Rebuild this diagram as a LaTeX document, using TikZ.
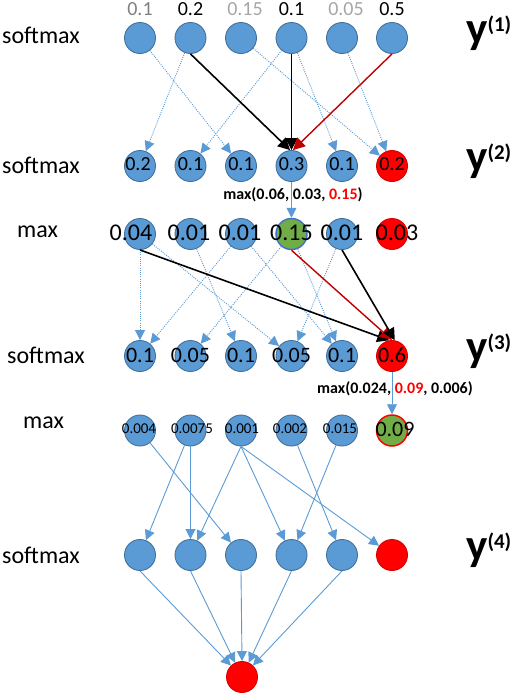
\documentclass[tikz,border=0pt]{standalone}
\usepackage{fontspec}
\setmainfont{Carlito}
\usetikzlibrary{arrows.meta}
\definecolor{cellblue}{HTML}{5B9BD5}
\definecolor{celledge}{HTML}{41719C}
\definecolor{cellred}{HTML}{FF0000}
\definecolor{cellgreen}{HTML}{70AD47}
\definecolor{ringblue}{HTML}{4472C4}
\definecolor{pathred}{HTML}{C00000}
\definecolor{numgrey}{HTML}{7F7F7F}
\definecolor{numlight}{HTML}{A6A6A6}
\tikzset{%
    cell/.style={circle, fill=cellblue, draw=celledge, line width=0.9pt, minimum size=31pt, inner sep=0pt},
    hotcell/.style={cell, fill=cellred, draw=cellred!85!black},
    bestcell/.style={cell, fill=cellgreen, line width=1.5pt},
    rowlab/.style={anchor=base west, inner sep=0pt, font=\fontsize{24}{24}\selectfont},
    ylab/.style={anchor=base west, inner sep=0pt, font=\bfseries\fontsize{45}{45}\selectfont},
    topnum/.style={anchor=base, inner sep=0pt, font=\fontsize{20}{20}\selectfont},
    num/.style={inner sep=0pt, font=\fontsize{#1}{#1}\selectfont},
    maxlab/.style={inner sep=0pt, font=\bfseries\fontsize{16}{16}\selectfont},
    soft/.style={->, draw=cellblue, line width=0.9pt, dash pattern=on 1pt off 1.2pt},
    flow/.style={->, draw=cellblue, line width=0.9pt},
    pick/.style={-{Triangle[length=12pt,width=12pt]}, draw=black, line width=1.6pt},
    pickred/.style={-{Triangle[length=12pt,width=12pt]}, draw=pathred, line width=1.4pt}
}
\newcommand{\ysup}[1]{y\raisebox{12pt}{\fontsize{21}{21}\selectfont(#1)}}

\begin{document}
\begin{tikzpicture}[x=1pt, y=-1pt, >={Triangle[length=10pt,width=10pt]}]
  \useasboundingbox (0,0) rectangle (512,694);

  % row names
  \node[rowlab] (lab1) at (2,43) {softmax};
  \node[rowlab] (lab2) at (2,173) {softmax};
  \node[rowlab] (lab3) at (17,237) {max};
  \node[rowlab] (lab4) at (7,363) {softmax};
  \node[rowlab] (lab5) at (23,428) {max};
  \node[rowlab] (lab6) at (2,563) {softmax};

  \node[ylab] (y1) at (466,43) {\ysup{1}};
  \node[ylab] (y2) at (466,171) {\ysup{2}};
  \node[ylab] (y3) at (466,361) {\ysup{3}};
  \node[ylab] (y4) at (466,560) {\ysup{4}};

  % y(1)
  \node[cell] (r1-1) at (140,38) {};
  \node[cell] (r1-2) at (190.5,38) {};
  \node[cell] (r1-3) at (241,38) {};
  \node[cell] (r1-4) at (291.5,38) {};
  \node[cell] (r1-5) at (342,38) {};
  \node[cell] (r1-6) at (392,38) {};
  \node[topnum, text=numgrey] (p1) at (140,15) {0.1};
  \node[topnum] (p2) at (190.5,15) {0.2};
  \node[topnum, text=numlight] (p3) at (245,15) {0.15};
  \node[topnum] (p4) at (291.5,15) {0.1};
  \node[topnum, text=numlight] (p5) at (346,15) {0.05};
  \node[topnum] (p6) at (392,15) {0.5};

  % y(2)
  \node[cell] (r2-1) at (140,166) {};
  \node[cell] (r2-2) at (190.5,166) {};
  \node[cell] (r2-3) at (241,166) {};
  \node[cell] (r2-4) at (291.5,166) {};
  \node[cell] (r2-5) at (342,166) {};
  \node[hotcell] (r2-6) at (392,166) {};

  % max after y(2)
  \node[cell] (mx1-1) at (140,234) {};
  \node[cell] (mx1-2) at (190.5,234) {};
  \node[cell] (mx1-3) at (241,234) {};
  \node[bestcell, draw=ringblue] (mx1-4) at (291.5,234) {};
  \node[cell] (mx1-5) at (342,234) {};
  \node[hotcell] (mx1-6) at (392,234) {};

  % y(3)
  \node[cell] (r3-1) at (140,356) {};
  \node[cell] (r3-2) at (190.5,356) {};
  \node[cell] (r3-3) at (241,356) {};
  \node[cell] (r3-4) at (291.5,356) {};
  \node[cell] (r3-5) at (342,356) {};
  \node[hotcell] (r3-6) at (392,356) {};

  % max after y(3)
  \node[cell] (mx2-1) at (140,430.5) {};
  \node[cell] (mx2-2) at (190.5,430.5) {};
  \node[cell] (mx2-3) at (241,430.5) {};
  \node[cell] (mx2-4) at (291.5,430.5) {};
  \node[cell] (mx2-5) at (342,430.5) {};
  \node[bestcell, draw=cellred] (mx2-6) at (392,430.5) {};

  % y(4)
  \node[cell] (r4-1) at (140,555) {};
  \node[cell] (r4-2) at (190.5,555) {};
  \node[cell] (r4-3) at (241,555) {};
  \node[cell] (r4-4) at (291.5,555) {};
  \node[cell] (r4-5) at (342,555) {};
  \node[hotcell] (r4-6) at (392,555) {};

  \node[hotcell] (fin) at (242,677) {};

  % y(1) -> y(2)
  \draw[soft] (r1-1) -- (r2-3);
  \draw[soft] (r1-2) -- (r2-1);
  \draw[soft] (r1-3) -- (r2-6);
  \draw[soft] (r1-4) -- (r2-2);
  \draw[soft] (r1-4) -- (r2-5);
  \draw[soft] (r1-5) -- (r2-6);
  \draw[pick] (r1-2.south) -- (r2-4.95);
  \draw[pick] (r1-4.south) -- (r2-4.north);
  \draw[pickred] (r1-6.south) -- (r2-4.85);

  \node[maxlab] (note1) at (293,195) {max(0.06, 0.03, \textcolor{cellred}{0.15})};
  \draw[flow] (r2-4.south) -- (mx1-4.north);

  % max -> y(3)
  \draw[soft] (mx1-1) -- (r3-1);
  \draw[soft] (mx1-1) -- (r3-4);
  \draw[soft] (mx1-2) -- (r3-3);
  \draw[soft] (mx1-3) -- (r3-1);
  \draw[soft] (mx1-3) -- (r3-5);
  \draw[soft] (mx1-4) -- (r3-2);
  \draw[soft] (mx1-4) -- (r3-5);
  \draw[soft] (mx1-5) -- (r3-4);
  \draw[pick] (mx1-1.south) -- (r3-6.100);
  \draw[pickred] (mx1-4.south) -- (r3-6.north);
  \draw[pick] (mx1-5.south) -- (r3-6.80);

  \node[maxlab] (note2) at (395,388.5) {max(0.024, \textcolor{cellred}{0.09}, 0.006)};
  \draw[flow] (r3-6.south) -- (mx2-6.north);

  % max -> y(4)
  \draw[flow] (mx2-1) -- (r4-3);
  \draw[flow] (mx2-2) -- (r4-1);
  \draw[flow] (mx2-2) -- (r4-2);
  \draw[flow] (mx2-3.south) -- (r4-2);
  \draw[flow] (mx2-3.south) -- (r4-4);
  \draw[flow] (mx2-3.south) -- (r4-6);
  \draw[flow] (mx2-4) -- (r4-5);
  \draw[flow] (mx2-5) -- (r4-4);

  % y(4) -> output
  \draw[flow] (r4-1.south) -- (fin);
  \draw[flow] (r4-2.south) -- (fin);
  \draw[flow] (r4-3.south) -- (fin.north);
  \draw[flow] (r4-4.south) -- (fin);
  \draw[flow] (r4-5.south) -- (fin);

  % values
  \node[num=20] (v2-1) at (138,164) {0.2};
  \node[num=20] (v2-2) at (190.5,164) {0.1};
  \node[num=20] (v2-3) at (241,164) {0.1};
  \node[num=20] (v2-4) at (291.5,164) {0.3};
  \node[num=20] (v2-5) at (342,164) {0.1};
  \node[num=20] (v2-6) at (392,164) {0.2};

  \node[num=24] (w1-1) at (131,233) {0.04};
  \node[num=24] (w1-2) at (189,233) {0.01};
  \node[num=24] (w1-3) at (240,233) {0.01};
  \node[num=24] (w1-4) at (291.5,233) {0.15};
  \node[num=24] (w1-5) at (342,233) {0.01};
  \node[num=24] (w1-6) at (397,233) {0.03};

  \node[num=22] (v3-1) at (140,355) {0.1};
  \node[num=22] (v3-2) at (190.5,355) {0.05};
  \node[num=22] (v3-3) at (241,355) {0.1};
  \node[num=22] (v3-4) at (291.5,355) {0.05};
  \node[num=22] (v3-5) at (342,355) {0.1};
  \node[num=22] (v3-6) at (392,355) {0.6};

  \node[num=15] (w2-1) at (139,429) {0.004};
  \node[num=15] (w2-2) at (192,429) {0.0075};
  \node[num=15] (w2-3) at (242,429) {0.001};
  \node[num=15] (w2-4) at (290,429) {0.002};
  \node[num=15] (w2-5) at (340,429) {0.015};
  \node[num=22] (w2-6) at (395,429) {0.09};
\end{tikzpicture}
\end{document}
